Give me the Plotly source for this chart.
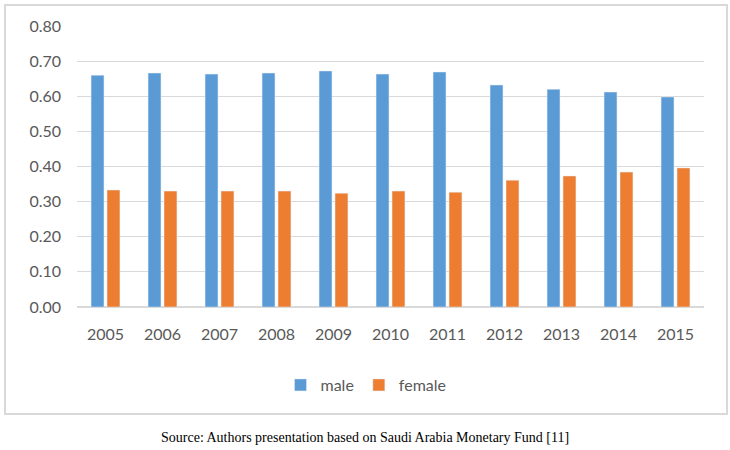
import plotly.graph_objects as go

years = ["2005", "2006", "2007", "2008", "2009", "2010", "2011", "2012", "2013", "2014", "2015"]
male = [0.660, 0.666, 0.663, 0.666, 0.672, 0.663, 0.669, 0.632, 0.620, 0.612, 0.598]
female = [0.333, 0.330, 0.330, 0.330, 0.324, 0.330, 0.327, 0.361, 0.373, 0.384, 0.396]
y_ticks = [0.0, 0.1, 0.2, 0.3, 0.4, 0.5, 0.6, 0.7, 0.8]
source_text = "Source: Authors presentation based on Saudi Arabia Monetary Fund [11]"

W, H = 730, 450
L, R, T, B = 77, 26, 26, 143
pw, ph = W - L - R, H - T - B


def px_x(x):
    return (x - L) / pw


def px_y(y):
    return (H - B - y) / ph


font = dict(family="Lato, Open Sans, sans-serif", size=16, color="#595959")

fig = go.Figure()
fig.add_trace(go.Bar(x=years, y=male, name="male", marker_color="#5B9BD5"))
fig.add_trace(go.Bar(x=years, y=female, name="female", marker_color="#ED7D31"))

fig.update_layout(
    width=W, height=H,
    margin=dict(l=L, r=R, t=T, b=B),
    paper_bgcolor="white", plot_bgcolor="white",
    barmode="group", bargap=0.44, bargroupgap=0.19,
    font=font,
    showlegend=True,
    legend=dict(orientation="h", x=px_x(366), xanchor="center", y=px_y(385), yanchor="middle",
                font=font, itemwidth=30, traceorder="normal", tracegroupgap=0),
    xaxis=dict(showgrid=False, showline=False, ticks="", tickfont=font, ticklabelstandoff=16),
    yaxis=dict(range=[0, 0.8], tickvals=y_ticks, tickformat=".2f", showgrid=True,
               gridcolor="#D9D9D9", gridwidth=1, zeroline=True, zerolinecolor="#D9D9D9",
               showline=False, ticks="", tickfont=font, ticklabelstandoff=15),
    shapes=[dict(type="rect", xref="paper", yref="paper",
                 x0=px_x(5), x1=px_x(727), y0=px_y(414), y1=px_y(5),
                 line=dict(color="#D9D9D9", width=2), layer="below")],
    annotations=[dict(text=source_text, xref="paper", yref="paper",
                      x=px_x(365), y=px_y(437), xanchor="center", yanchor="middle",
                      showarrow=False,
                      font=dict(family="Liberation Serif, Times New Roman, serif", size=14, color="black"))],
)

fig.write_html("out.html", config={"displayModeBar": False},
               post_script="document.body.style.margin='0';document.body.style.overflow='hidden';")
